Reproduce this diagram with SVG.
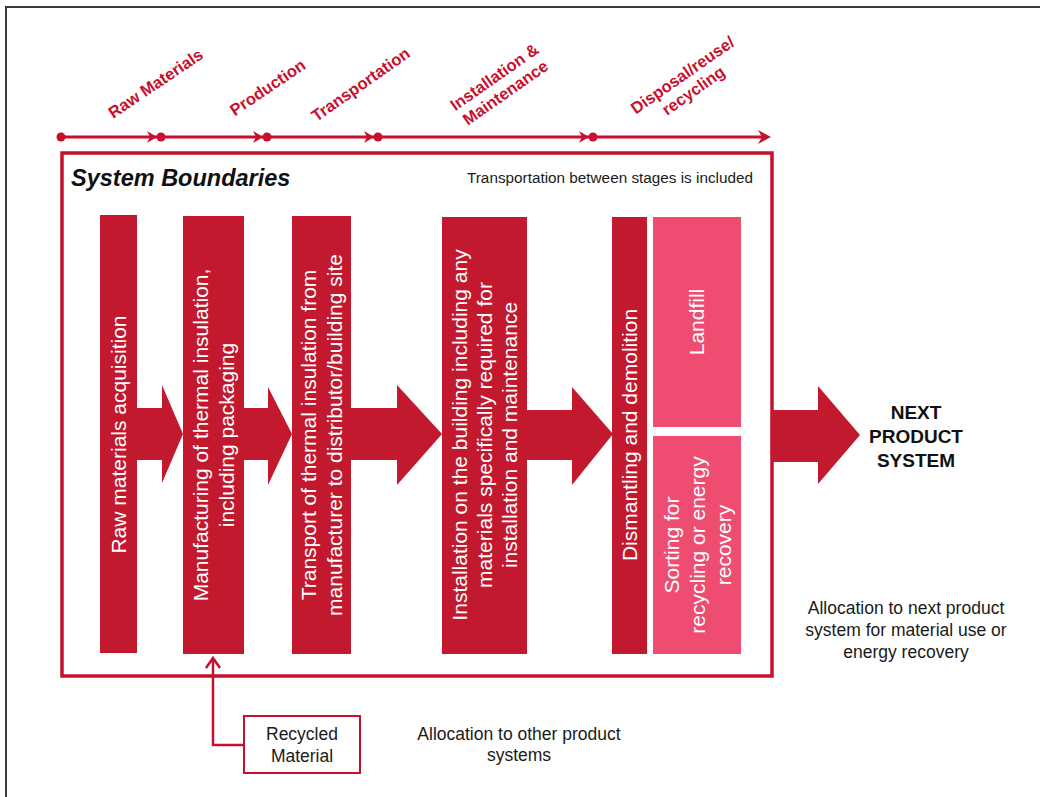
<svg xmlns="http://www.w3.org/2000/svg" width="1040" height="797" viewBox="0 0 1040 797">
<style>
.stage{font-family:"Liberation Sans",Arial,sans-serif;font-size:16.5px;font-weight:bold;fill:#c8102e;text-anchor:middle}
.bar{fill:#c2192f}
.pink{fill:#ee4c71}
.wt{font-family:"Liberation Sans",Arial,sans-serif;font-size:21px;fill:#ffffff;text-anchor:middle}
.bk{font-family:"Liberation Sans",Arial,sans-serif;font-size:17.5px;fill:#1a1a1a;text-anchor:middle}
.tl{stroke:#c8102e;stroke-width:3.2;fill:none}
.arr{fill:#c2192f}
</style>
<rect width="1040" height="797" fill="#ffffff"/>
<path d="M6,797 V7 H1040" fill="none" stroke="#3a3a3a" stroke-width="2"/>

<g id="timeline">
  <line class="tl" x1="61" y1="137" x2="766" y2="137"/>
  <circle cx="61" cy="137" r="4.5" fill="#c8102e"/>
  <path d="M157,137 L147,131 L150,137 L147,143 Z" fill="#c8102e"/>
  <circle cx="161" cy="137" r="4.5" fill="#c8102e"/>
  <path d="M263,137 L253,131 L256,137 L253,143 Z" fill="#c8102e"/>
  <circle cx="267" cy="137" r="4.5" fill="#c8102e"/>
  <path d="M374,137 L364,131 L367,137 L364,143 Z" fill="#c8102e"/>
  <circle cx="378" cy="137" r="4.5" fill="#c8102e"/>
  <path d="M589,137 L579,131 L582,137 L579,143 Z" fill="#c8102e"/>
  <circle cx="593" cy="137" r="4.5" fill="#c8102e"/>
  <path d="M771,137 L758,130 L762,137 L758,144 Z" fill="#c8102e"/>
</g>

<g id="stage-labels">
  <text class="stage" transform="translate(156,84) rotate(-34)" y="5">Raw Materials</text>
  <text class="stage" transform="translate(268,88) rotate(-34)" y="5">Production</text>
  <text class="stage" transform="translate(361,85) rotate(-35)" y="5">Transportation</text>
  <text class="stage" transform="translate(500,85) rotate(-35)"><tspan x="0" y="-4">Installation  &amp;</tspan><tspan x="0" y="15">Maintenance</tspan></text>
  <text class="stage" transform="translate(688,83) rotate(-35)"><tspan x="0" y="-4">Disposal/reuse/</tspan><tspan x="0" y="15">recycling</tspan></text>
</g>

<g id="system-boundaries">
  <rect x="62" y="153" width="710" height="523" fill="none" stroke="#c8102e" stroke-width="3.5"/>
  <text x="71" y="186" font-family="'Liberation Sans',Arial,sans-serif" font-size="23.5" font-weight="bold" font-style="italic" fill="#111">System Boundaries</text>
  <text x="753" y="183" font-family="'Liberation Sans',Arial,sans-serif" font-size="15.3" fill="#1a1a1a" text-anchor="end">Transportation between stages is included</text>
</g>

<g id="connectors">
  <polygon class="arr" points="137,408 162,408 162,385 183,434 162,483 162,460 137,460"/>
  <polygon class="arr" points="244,408 268,408 268,387 292,434 268,485 268,460 244,460"/>
  <polygon class="arr" points="351,408 397,408 397,385 442,434 397,485 397,460 351,460"/>
  <polygon class="arr" points="526,410 572,410 572,387 613,434 572,485 572,460 526,460"/>
  <polygon class="arr" points="772,410 818,410 818,386 860,435 818,484 818,462 772,462"/>
  <path d="M244,745 H213 V658" fill="none" stroke="#c8102e" stroke-width="2.5"/>
  <path d="M206,668 L213,658 L220,668" fill="none" stroke="#c8102e" stroke-width="2.5"/>
</g>

<g id="raw-materials">
  <rect class="bar" x="100" y="215" width="37" height="438"/>
  <text class="wt" transform="translate(126,434.5) rotate(-90)">Raw materials acquisition</text>
</g>
<g id="manufacturing">
  <rect class="bar" x="183" y="216" width="61" height="438"/>
  <text class="wt" transform="translate(208,435) rotate(-90)">Manufacturing of thermal insulation,</text>
  <text class="wt" transform="translate(234,435) rotate(-90)">including packaging</text>
</g>
<g id="transport">
  <rect class="bar" x="292" y="216" width="59" height="438"/>
  <text class="wt" transform="translate(316,435) rotate(-90)">Transport of thermal insulation from</text>
  <text class="wt" transform="translate(342,435) rotate(-90)">manufacturer to distributor/building site</text>
</g>
<g id="installation">
  <rect class="bar" x="442" y="217" width="85" height="437"/>
  <text class="wt" transform="translate(467,435) rotate(-90)">Installation on the building including any</text>
  <text class="wt" transform="translate(492,435) rotate(-90)">materials specifically required for</text>
  <text class="wt" transform="translate(517,435) rotate(-90)">installation and maintenance</text>
</g>
<g id="dismantling">
  <rect class="bar" x="612" y="217" width="35" height="437"/>
  <text class="wt" transform="translate(637,435) rotate(-90)" font-size="21.5">Dismantling and demolition</text>
</g>
<g id="landfill">
  <rect class="pink" x="653" y="217" width="88" height="210"/>
  <text class="wt" transform="translate(704,322) rotate(-90)">Landfill</text>
</g>
<g id="sorting">
  <rect class="pink" x="653" y="436" width="88" height="218"/>
  <text class="wt" transform="translate(679,545) rotate(-90)">Sorting for</text>
  <text class="wt" transform="translate(705,545) rotate(-90)">recycling or energy</text>
  <text class="wt" transform="translate(731,545) rotate(-90)">recovery</text>
</g>

<g id="next-product-system">
  <text font-family="'Liberation Sans',Arial,sans-serif" font-size="19" font-weight="bold" fill="#111" text-anchor="middle"><tspan x="916" y="419">NEXT</tspan><tspan x="916" y="443">PRODUCT</tspan><tspan x="916" y="467">SYSTEM</tspan></text>
</g>
<g id="allocation-next">
  <text class="bk"><tspan x="906" y="614">Allocation to next product</tspan><tspan x="906" y="636">system for material use or</tspan><tspan x="906" y="658">energy recovery</tspan></text>
</g>
<g id="recycled-material">
  <rect x="244" y="716" width="116" height="57" fill="#ffffff" stroke="#c8102e" stroke-width="2"/>
  <text class="bk" font-size="17"><tspan x="302" y="740">Recycled</tspan><tspan x="302" y="762">Material</tspan></text>
</g>
<g id="allocation-other">
  <text class="bk"><tspan x="519" y="740">Allocation to other product</tspan><tspan x="519" y="761">systems</tspan></text>
</g>
</svg>
